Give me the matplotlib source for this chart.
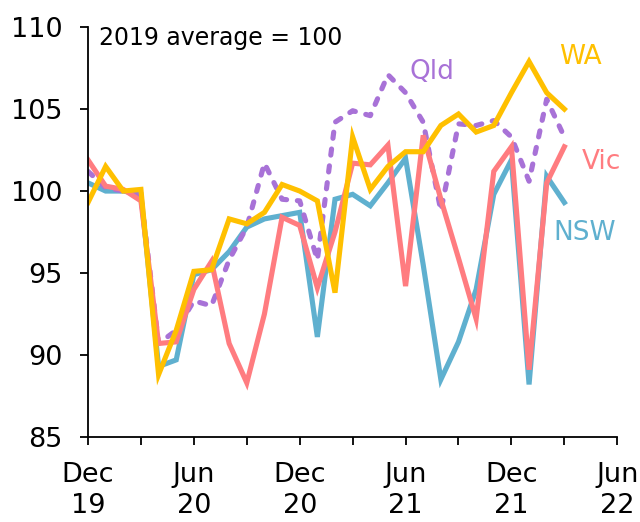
import numpy as np
import matplotlib.pyplot as plt

# Monthly index, Dec 2019 to Mar 2022 (2019 average = 100)
months = ['Dec 19', 'Jan 20', 'Feb 20', 'Mar 20', 'Apr 20', 'May 20', 'Jun 20',
          'Jul 20', 'Aug 20', 'Sep 20', 'Oct 20', 'Nov 20', 'Dec 20', 'Jan 21',
          'Feb 21', 'Mar 21', 'Apr 21', 'May 21', 'Jun 21', 'Jul 21', 'Aug 21',
          'Sep 21', 'Oct 21', 'Nov 21', 'Dec 21', 'Jan 22', 'Feb 22', 'Mar 22']

nsw = [100.5, 100.0, 100.0, 99.8, 89.3, 89.7, 94.9, 95.2, 96.3, 97.8, 98.3, 98.5,
       98.7, 91.1, 99.5, 99.8, 99.1, 100.5, 102.0, 95.5, 88.5, 90.8, 94.0, 99.8,
       101.9, 88.2, 100.9, 99.3]
vic = [101.9, 100.3, 100.1, 99.4, 90.7, 90.8, 94.0, 95.7, 90.7, 88.3, 92.5, 98.4,
       97.9, 94.1, 97.5, 101.7, 101.6, 102.8, 94.2, 103.4, 99.5, 95.9, 92.2, 101.2,
       102.7, 89.1, 100.5, 102.7]
qld = [101.2, 100.2, 100.0, 99.7, 90.7, 91.5, 93.3, 93.0, 95.8, 97.8, 101.7, 99.5,
       99.4, 95.8, 104.2, 104.9, 104.6, 107.1, 106.0, 104.2, 98.8, 104.1, 104.0,
       104.3, 103.3, 100.6, 105.6, 103.3]
wa = [99.3, 101.5, 100.0, 100.1, 88.8, 91.5, 95.1, 95.2, 98.3, 98.0, 98.7, 100.4,
      100.0, 99.4, 93.8, 103.3, 100.1, 101.5, 102.4, 102.4, 104.0, 104.7, 103.6,
      104.0, 106.0, 107.9, 106.0, 105.0]

tick_labels = ['Dec\n19', '', 'Jun\n20', '', 'Dec\n20', '', 'Jun\n21', '',
               'Dec\n21', '', 'Jun\n22']

blue = '#5fb0cf'
pink = '#ff7c80'
purple = '#a872d7'
yellow = '#ffc000'

plt.rcParams['font.family'] = 'DejaVu Sans'

fig = plt.figure(figsize=(6.4, 5.22), dpi=100)
ax = fig.add_axes([0.1375, 0.163, 0.827, 0.785])

x = np.arange(len(months))
lw = 3.7
ax.plot(x, nsw, color=blue, lw=lw, solid_joinstyle='miter')
ax.plot(x, qld, color=purple, lw=lw, linestyle=(0, (1.2, 2.1)),
        dash_capstyle='round')
ax.plot(x, vic, color=pink, lw=lw, solid_joinstyle='miter')
ax.plot(x, wa, color=yellow, lw=lw, solid_joinstyle='miter')

ax.set_xlim(0, 30)
ax.set_ylim(85, 110)
ax.set_xticks(np.arange(0, 31, 3))
ax.set_xticklabels(tick_labels, linespacing=1.25)
ax.set_yticks(np.arange(85, 111, 5))

for side in ['top', 'right']:
    ax.spines[side].set_visible(False)
for side in ['left', 'bottom']:
    ax.spines[side].set_linewidth(1.3)
ax.tick_params(direction='out', length=6, width=1.3, labelsize=19.5)
ax.tick_params(axis='y', pad=12)
ax.tick_params(axis='x', pad=12)

# series labels
ax.text(0.65, 109.35, '2019 average = 100', fontsize=17, ha='left', va='center')
ax.text(18.2, 107.25, 'Qld', color=purple, fontsize=19, ha='left', va='center')
ax.text(26.7, 108.15, 'WA', color=yellow, fontsize=19, ha='left', va='center')
ax.text(28.0, 101.75, 'Vic', color=pink, fontsize=19, ha='left', va='center')
ax.text(26.4, 97.45, 'NSW', color=blue, fontsize=19, ha='left', va='center')

fig.savefig('out.png', dpi=100)
